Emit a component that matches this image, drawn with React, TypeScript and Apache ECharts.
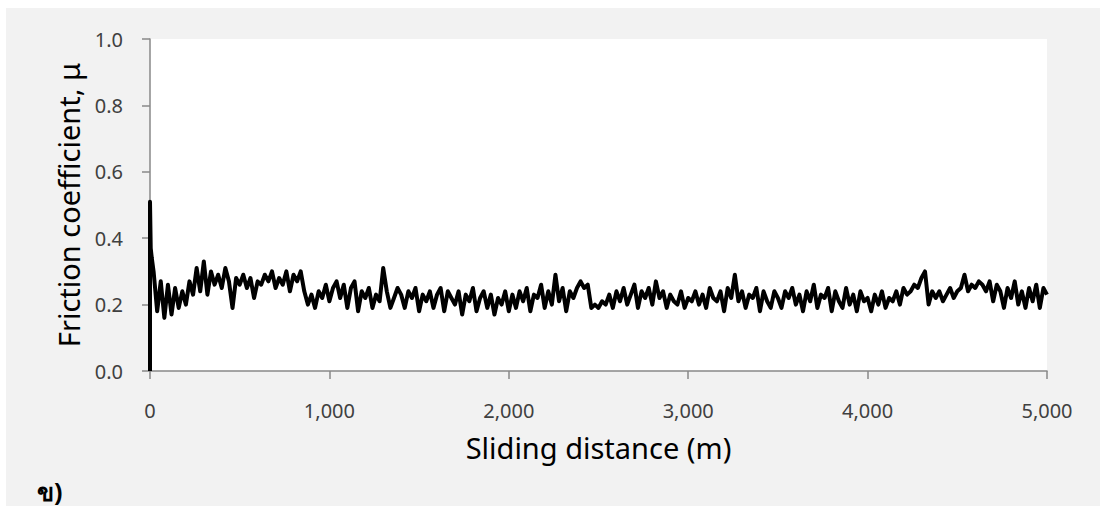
import React, { useEffect, useRef } from "react";
import * as echarts from "echarts";

// Initial run-in readings (distance in m, friction coefficient)
const startDistance = [0, 0, 4, 10];
const startMu = [0.0, 0.51, 0.37, 0.34];

// Readings every 20 m from 20 m to 5,000 m
const stepMeters = 20;
const muSeg1 = [0.30, 0.18, 0.27, 0.16, 0.26, 0.17, 0.25, 0.19, 0.24, 0.20, 0.27, 0.23, 0.31, 0.24, 0.33, 0.23, 0.30, 0.26, 0.29, 0.25, 0.31, 0.27, 0.19, 0.28, 0.26];
const muSeg2 = [0.29, 0.25, 0.28, 0.22, 0.27, 0.26, 0.29, 0.27, 0.30, 0.25, 0.28, 0.26, 0.30, 0.24, 0.29, 0.27, 0.30, 0.24, 0.20, 0.23, 0.19, 0.24, 0.22, 0.26, 0.21];
const muSeg3 = [0.25, 0.27, 0.22, 0.26, 0.19, 0.25, 0.27, 0.18, 0.24, 0.22, 0.25, 0.19, 0.23, 0.21, 0.31, 0.24, 0.19, 0.22, 0.25, 0.23, 0.19, 0.24, 0.22, 0.25, 0.18];
const muSeg4 = [0.23, 0.21, 0.24, 0.19, 0.23, 0.25, 0.18, 0.24, 0.22, 0.20, 0.24, 0.17, 0.23, 0.21, 0.25, 0.18, 0.22, 0.24, 0.19, 0.23, 0.17, 0.22, 0.20, 0.24, 0.18];
const muSeg5 = [0.23, 0.19, 0.24, 0.21, 0.25, 0.18, 0.23, 0.22, 0.26, 0.19, 0.24, 0.20, 0.29, 0.21, 0.25, 0.18, 0.24, 0.22, 0.25, 0.27, 0.25, 0.26, 0.19, 0.20, 0.19];
const muSeg6 = [0.21, 0.20, 0.23, 0.19, 0.24, 0.21, 0.25, 0.20, 0.23, 0.26, 0.19, 0.24, 0.22, 0.25, 0.20, 0.27, 0.22, 0.24, 0.19, 0.23, 0.21, 0.20, 0.24, 0.19, 0.22];
const muSeg7 = [0.21, 0.24, 0.20, 0.23, 0.19, 0.25, 0.22, 0.21, 0.24, 0.18, 0.25, 0.22, 0.29, 0.21, 0.24, 0.19, 0.23, 0.22, 0.25, 0.18, 0.24, 0.21, 0.19, 0.24, 0.22];
const muSeg8 = [0.19, 0.24, 0.22, 0.25, 0.20, 0.23, 0.18, 0.24, 0.21, 0.26, 0.19, 0.23, 0.22, 0.25, 0.18, 0.24, 0.21, 0.19, 0.25, 0.20, 0.23, 0.18, 0.24, 0.21, 0.22];
const muSeg9 = [0.18, 0.23, 0.20, 0.24, 0.19, 0.22, 0.21, 0.24, 0.20, 0.25, 0.23, 0.24, 0.26, 0.25, 0.28, 0.30, 0.20, 0.24, 0.22, 0.24, 0.21, 0.23, 0.25, 0.22, 0.24];
const muSeg10 = [0.25, 0.29, 0.24, 0.26, 0.25, 0.27, 0.26, 0.24, 0.27, 0.21, 0.26, 0.24, 0.19, 0.25, 0.22, 0.27, 0.20, 0.24, 0.19, 0.25, 0.21, 0.26, 0.19, 0.25, 0.23];

const yTicks = [0, 0.2, 0.4, 0.6, 0.8, 1.0];
const xTicks = [0, 1000, 2000, 3000, 4000, 5000];

const xTitle = "Sliding distance (m)";
const yTitle = "Friction coefficient, μ";
const panelLabel = "ข)";

export default function App() {
  const ref = useRef<HTMLDivElement>(null);

  useEffect(() => {
    if (!ref.current) return;
    const chart = echarts.init(ref.current, undefined, { renderer: "svg" });

    const gridMu = [
      ...muSeg1, ...muSeg2, ...muSeg3, ...muSeg4, ...muSeg5,
      ...muSeg6, ...muSeg7, ...muSeg8, ...muSeg9, ...muSeg10,
    ];
    const data: number[][] = [];
    startDistance.forEach((d, i) => data.push([d, startMu[i]]));
    gridMu.forEach((v, i) => data.push([(i + 1) * stepMeters, v]));

    const font = "'Noto Sans', 'Open Sans', sans-serif";
    const axisGray = "#898989";

    chart.setOption({
      animation: false,
      backgroundColor: "transparent",
      grid: {
        left: 144,
        top: 31,
        width: 897,
        height: 332,
        show: true,
        backgroundColor: "#ffffff",
        borderWidth: 0,
      },
      xAxis: {
        type: "value",
        min: xTicks[0],
        max: xTicks[xTicks.length - 1],
        interval: 1000,
        name: xTitle,
        nameLocation: "middle",
        nameGap: 62,
        nameTextStyle: { fontFamily: font, fontSize: 29, color: "#000" },
        axisLine: { show: true, lineStyle: { color: axisGray, width: 1.5 } },
        axisTick: { show: true, length: 8, lineStyle: { color: axisGray, width: 1.5 } },
        splitLine: { show: false },
        axisLabel: {
          margin: 29,
          fontFamily: font,
          fontSize: 20,
          color: "#404040",
          formatter: (v: number) => v.toLocaleString("en-US"),
        },
      },
      yAxis: {
        type: "value",
        min: yTicks[0],
        max: yTicks[yTicks.length - 1],
        interval: 0.2,
        name: yTitle,
        nameLocation: "middle",
        nameGap: 67,
        nameRotate: 90,
        nameTextStyle: { fontFamily: font, fontSize: 29, color: "#000" },
        axisLine: { show: true, lineStyle: { color: axisGray, width: 1.5 } },
        axisTick: { show: true, length: 8, lineStyle: { color: axisGray, width: 1.5 } },
        splitLine: { show: false },
        axisLabel: {
          margin: 27,
          fontFamily: font,
          fontSize: 20,
          color: "#404040",
          formatter: (v: number) => v.toFixed(1),
        },
      },
      graphic: [
        {
          type: "text",
          left: 31,
          top: 470,
          style: {
            text: panelLabel,
            fontFamily: "'Noto Sans', 'DejaVu Sans', sans-serif",
            fontSize: 25,
            fontWeight: "bold",
            fill: "#000",
          },
        },
      ],
      series: [
        {
          type: "line",
          data,
          symbol: "none",
          smooth: false,
          lineStyle: { color: "#000", width: 4, join: "round" },
          z: 3,
        },
      ],
    });

    return () => chart.dispose();
  }, []);

  return (
    <div
      style={{
        position: "absolute",
        left: 6,
        top: 8,
        width: 1094,
        height: 498,
        background: "#f2f2f2",
      }}
    >
      <div ref={ref} style={{ width: 1094, height: 498 }} />
    </div>
  );
}
